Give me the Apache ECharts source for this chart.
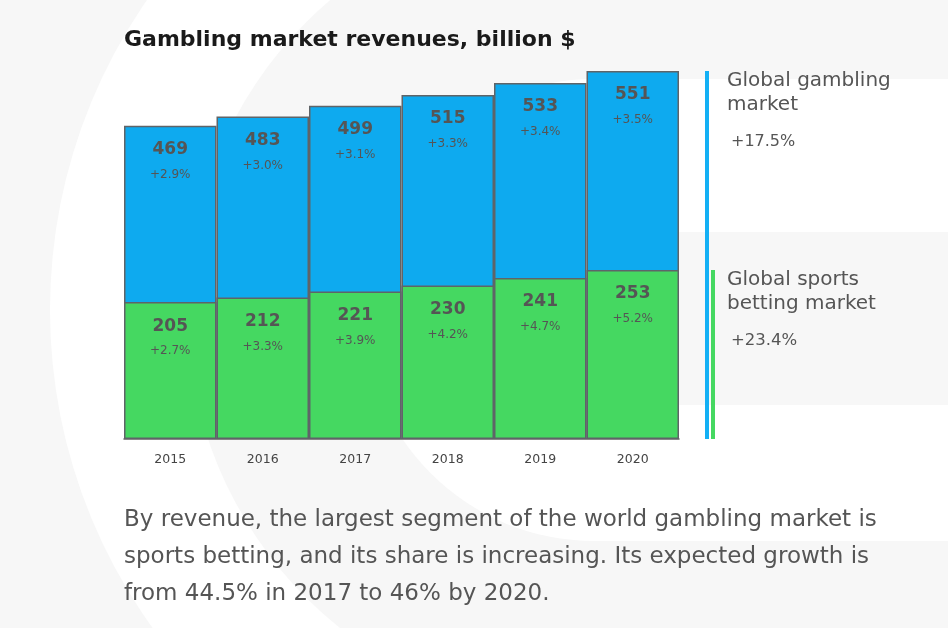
<!DOCTYPE html>
<html>
<head>
<meta charset="utf-8">
<script src="https://cdn.jsdelivr.net/npm/echarts@6/dist/echarts.min.js"></script>
<style>
html,body{margin:0;padding:0;background:#fff;}
#chart{width:948px;height:628px;}
</style>
</head>
<body>
<div id="chart"></div>
<script>
var years = ['2015', '2016', '2017', '2018', '2019', '2020'];
var totalValues = [469, 483, 499, 515, 533, 551];
var totalGrowth = ['+2.9%', '+3.0%', '+3.1%', '+3.3%', '+3.4%', '+3.5%'];
var sportsValues = [205, 212, 221, 230, 241, 253];
var sportsGrowth = ['+2.7%', '+3.3%', '+3.9%', '+4.2%', '+4.7%', '+5.2%'];
var legendNames = ['Global gambling\nmarket', 'Global sports\nbetting market'];
var legendTotals = ['+17.5%', '+23.4%'];
var titleText = 'Gambling market revenues, billion $';
var noteLines = [
  'By revenue, the largest segment of the world gambling market is',
  'sports betting, and its share is increasing. Its expected growth is',
  'from 44.5% in 2017 to 46% by 2020.'
];

var FONT = '"DejaVu Sans", "Noto Sans", sans-serif';
var BLUE = '#0eaaef';
var GREEN = '#45d861';
var BG = '#f7f7f7';

var chart = echarts.init(document.getElementById('chart'), null, {renderer: 'canvas'});

function labelFor(growth) {
  return {
    show: true,
    position: 'insideTop',
    distance: 11,
    formatter: function (p) {
      return '{v|' + p.value + '}\n{p|' + growth[p.dataIndex] + '}';
    },
    rich: {
      v: {fontFamily: FONT, fontSize: 17, fontWeight: 'bold', color: '#555', lineHeight: 26, align: 'center'},
      p: {fontFamily: FONT, fontSize: 12, color: '#555', lineHeight: 24, align: 'center'}
    }
  };
}

var bgGraphics = [
  {type: 'rect', z: -10, silent: true, shape: {x: 0, y: 0, width: 948, height: 628}, style: {fill: BG}},
  {type: 'sector', z: -9, silent: true, shape: {cx: 594, cy: 310, r0: 407, r: 544, startAngle: Math.PI * 0.5, endAngle: Math.PI * 1.5}, style: {fill: '#fff'}},
  {type: 'circle', z: -8, silent: true, shape: {cx: 594, cy: 310, r: 231}, style: {fill: '#fff'}},
  {type: 'rect', z: -8, silent: true, shape: {x: 594, y: 79, width: 360, height: 462}, style: {fill: '#fff'}},
  {type: 'rect', z: -7, silent: true, shape: {x: 526, y: 232, width: 430, height: 173, r: [86, 0, 0, 86]}, style: {fill: BG}}
];

var option = {
  backgroundColor: 'transparent',
  animation: false,
  grid: {left: 124, right: 269, top: 71, bottom: 189, containLabel: false},
  xAxis: {
    type: 'category',
    data: years,
    axisTick: {show: false},
    axisLine: {show: true, lineStyle: {color: '#606060', width: 1.5}},
    axisLabel: {fontFamily: FONT, fontSize: 12.5, color: '#444', margin: 14}
  },
  yAxis: {
    type: 'value',
    min: 0,
    max: 551,
    show: false,
    splitLine: {show: false}
  },
  series: [
    {
      name: 'Global gambling market',
      type: 'bar',
      data: totalValues,
      barCategoryGap: 0,
      barGap: '-100%',
      itemStyle: {color: BLUE, borderColor: '#5f6468', borderWidth: 1.5},
      label: labelFor(totalGrowth),
      z: 2
    },
    {
      name: 'Global sports betting market',
      type: 'bar',
      data: sportsValues,
      barCategoryGap: 0,
      barGap: '-100%',
      itemStyle: {color: GREEN, borderColor: '#5f6468', borderWidth: 1.5},
      label: labelFor(sportsGrowth),
      z: 3
    }
  ],
  graphic: bgGraphics
};
chart.setOption(option);

var yTop = chart.convertToPixel({yAxisIndex: 0}, totalValues[totalValues.length - 1]);
var yMid = chart.convertToPixel({yAxisIndex: 0}, sportsValues[sportsValues.length - 1]);
var yBase = chart.convertToPixel({yAxisIndex: 0}, 0);

var extra = bgGraphics.concat([
  {type: 'text', left: 124, top: 29, style: {text: titleText, fontFamily: FONT, fontSize: 22, fontWeight: 'bold', fill: '#1a1a1a'}},
  {type: 'rect', shape: {x: 705, y: yTop, width: 4, height: yBase - yTop}, style: {fill: '#13b0f5'}},
  {type: 'rect', shape: {x: 711, y: yMid, width: 4, height: yBase - yMid}, style: {fill: GREEN}},
  {type: 'text', left: 727, top: yTop - 2, style: {text: legendNames[0], fontFamily: FONT, fontSize: 20, lineHeight: 24, fill: '#555'}},
  {type: 'text', left: 731, top: yTop + 63, style: {text: legendTotals[0], fontFamily: FONT, fontSize: 16, fill: '#555'}},
  {type: 'text', left: 727, top: yMid - 2, style: {text: legendNames[1], fontFamily: FONT, fontSize: 20, lineHeight: 24, fill: '#555'}},
  {type: 'text', left: 731, top: yMid + 62, style: {text: legendTotals[1], fontFamily: FONT, fontSize: 16.5, fill: '#555'}}
]);
for (var i = 0; i < noteLines.length; i++) {
  extra.push({type: 'text', left: 124, top: 509 + i * 36.7, style: {text: noteLines[i], fontFamily: FONT, fontSize: 23, fill: '#555'}});
}
chart.setOption({graphic: extra}, {replaceMerge: ['graphic']});
</script>
</body>
</html>
